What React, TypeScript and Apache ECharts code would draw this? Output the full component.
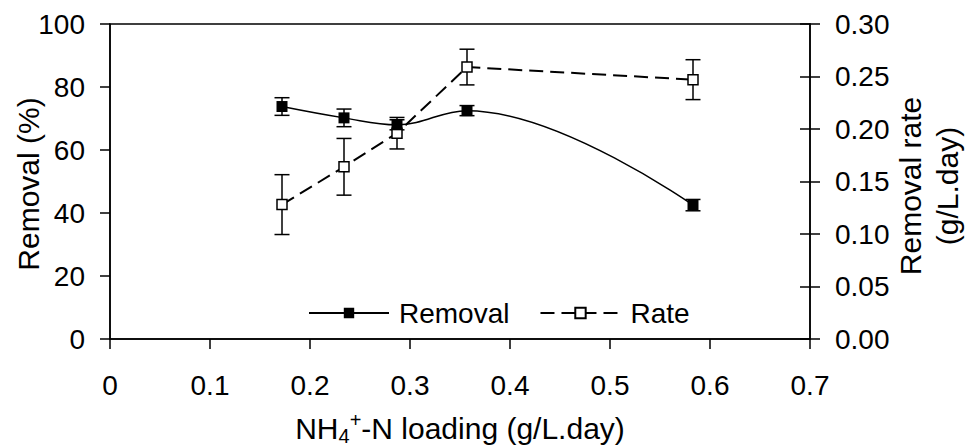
import React, { useEffect, useRef } from "react";
import * as echarts from "echarts";

// NH4+-N loading (g/L.day)
const loading = [0.172, 0.234, 0.287, 0.357, 0.583];
// Removal (%)
const removal = [73.8, 70.2, 68.0, 72.5, 42.5];
const removalErr = [2.8, 2.8, 1.6, 1.6, 1.8];
// Removal rate (g/L.day)
const rate = [0.128, 0.164, 0.196, 0.259, 0.247];
const rateErr = [0.0285, 0.027, 0.015, 0.017, 0.019];

const seriesNames = ["Removal", "Rate"];
const xTitle = "{n|NH}{sub|4}{sup|+}{n|-N loading (g/L.day)}";
const leftTitle = "Removal (%)";
const rightTitle = "Removal rate\n(g/L.day)";

const FONT = "'Liberation Sans', Arial, sans-serif";

function errorRenderer(params: any, api: any) {
  const x = api.value(0);
  const y = api.value(1);
  const e = api.value(2);
  const top = api.coord([x, y + e]);
  const bot = api.coord([x, y - e]);
  const hw = 7.5;
  const st = { stroke: "#000", lineWidth: 1.5 };
  return {
    type: "group",
    children: [
      { type: "line", shape: { x1: top[0], y1: top[1], x2: bot[0], y2: bot[1] }, style: st },
      { type: "line", shape: { x1: top[0] - hw, y1: top[1], x2: top[0] + hw, y2: top[1] }, style: st },
      { type: "line", shape: { x1: bot[0] - hw, y1: bot[1], x2: bot[0] + hw, y2: bot[1] }, style: st },
    ],
  };
}

export default function App() {
  const ref = useRef<HTMLDivElement>(null);
  useEffect(() => {
    if (!ref.current) return;
    const chart = echarts.init(ref.current, null, { renderer: "svg" });
    const axisLine = { show: true, lineStyle: { color: "#000", width: 1.5 } };
    const labelStyle = { color: "#000", fontSize: 28, fontFamily: FONT };
    chart.setOption({
      animation: false,
      backgroundColor: "#fff",
      grid: {
        left: 110,
        right: 159,
        top: 24,
        bottom: 107,
        outerBoundsMode: "none",
        containLabel: false,
        show: true,
        borderColor: "#000",
        borderWidth: 1.5,
        backgroundColor: "transparent",
      },
      legend: {
        data: seriesNames,
        left: 308,
        top: 299,
        padding: 0,
        itemWidth: 80,
        itemHeight: 13,
        itemGap: 30,
        textStyle: { color: "#000", fontSize: 28, fontFamily: FONT, padding: [0, 0, 0, 5] },
      },
      xAxis: {
        type: "value",
        min: 0,
        max: 0.7,
        interval: 0.1,
        splitLine: { show: false },
        axisLine,
        axisTick: { show: true, inside: false, length: 10, lineStyle: { color: "#000", width: 1.5 } },
        axisLabel: {
          ...labelStyle,
          margin: 32,
          formatter: (v: number) => (v === 0 ? "0" : v.toFixed(1)),
        },
        name: xTitle,
        nameLocation: "middle",
        nameGap: 71,
        nameTextStyle: {
          color: "#000",
          fontFamily: FONT,
          fontSize: 30,
          rich: {
            n: { fontSize: 30, lineHeight: 36, fontFamily: FONT, color: "#000" },
            sub: { fontSize: 20, lineHeight: 20, verticalAlign: "bottom", fontFamily: FONT, color: "#000" },
            sup: { fontSize: 20, lineHeight: 20, verticalAlign: "top", fontFamily: FONT, color: "#000" },
          },
        },
      },
      yAxis: [
        {
          type: "value",
          min: 0,
          max: 100,
          interval: 20,
          splitLine: { show: false },
          axisLine,
          axisTick: { show: true, inside: false, length: 10, lineStyle: { color: "#000", width: 1.5 } },
          axisLabel: { ...labelStyle, margin: 25 },
        },
        {
          type: "value",
          position: "right",
          min: 0,
          max: 0.3,
          interval: 0.05,
          splitLine: { show: false },
          axisLine,
          axisTick: { show: true, inside: false, length: 10, lineStyle: { color: "#000", width: 1.5 } },
          axisLabel: { ...labelStyle, margin: 25, formatter: (v: number) => v.toFixed(2) },
        },
        {
          type: "value",
          position: "right",
          min: 0,
          max: 0.3,
          interval: 0.05,
          splitLine: { show: false },
          axisLine: { show: false },
          axisTick: { show: true, inside: true, length: 10, lineStyle: { color: "#000", width: 1.5 } },
          axisLabel: { show: false },
        },
      ],
      graphic: [
        {
          type: "text",
          x: 28,
          y: 184,
          rotation: Math.PI / 2,
          style: { text: leftTitle, fontSize: 30, fontFamily: FONT, fill: "#000", align: "center", verticalAlign: "middle" },
        },
        {
          type: "text",
          x: 929,
          y: 186,
          rotation: Math.PI / 2,
          style: {
            text: rightTitle,
            fontSize: 30,
            lineHeight: 37,
            fontFamily: FONT,
            fill: "#000",
            align: "center",
            verticalAlign: "middle",
          },
        },
      ],
      series: [
        {
          name: "removalErr",
          type: "custom",
          xAxisIndex: 0,
          yAxisIndex: 0,
          z: 1,
          renderItem: errorRenderer,
          data: loading.map((x, i) => [x, removal[i], removalErr[i]]),
          encode: { x: 0, y: 1 },
        },
        {
          name: "rateErr",
          type: "custom",
          xAxisIndex: 0,
          yAxisIndex: 1,
          z: 1,
          renderItem: errorRenderer,
          data: loading.map((x, i) => [x, rate[i], rateErr[i]]),
          encode: { x: 0, y: 1 },
        },
        {
          name: "Rate",
          type: "line",
          yAxisIndex: 1,
          z: 2,
          data: loading.map((x, i) => [x, rate[i]]),
          symbol: "rect",
          symbolSize: 10,
          itemStyle: { color: "#fff", borderColor: "#000", borderWidth: 1.5 },
          lineStyle: { color: "#000", width: 2, type: [14, 7] },
        },
        {
          name: "Removal",
          type: "line",
          yAxisIndex: 0,
          z: 3,
          data: loading.map((x, i) => [x, removal[i]]),
          smooth: 0.4,
          symbol: "rect",
          symbolSize: 11,
          itemStyle: { color: "#000" },
          lineStyle: { color: "#000", width: 1.5 },
        },
      ],
    });
    return () => chart.dispose();
  }, []);
  return (
    <div
      ref={ref}
      style={{ position: "fixed", left: 0, top: 0, width: 969, height: 446, background: "#fff" }}
    />
  );
}
